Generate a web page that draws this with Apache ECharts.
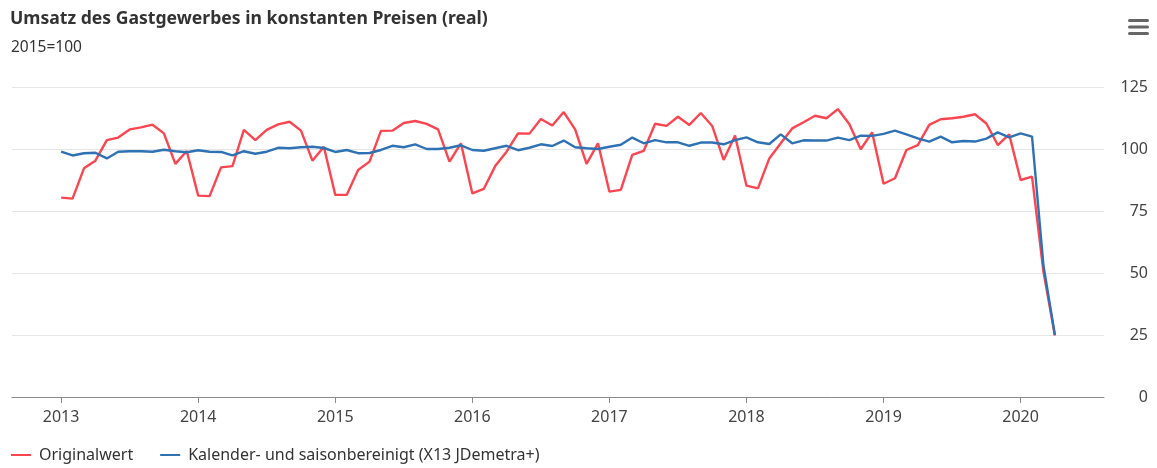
<!DOCTYPE html>
<html>
<head>
<meta charset="utf-8">
<script src="https://cdn.jsdelivr.net/npm/echarts@6/dist/echarts.min.js"></script>
<style>
  html, body { margin: 0; padding: 0; background: #fff; }
  #chart { width: 1157px; height: 468px; }
</style>
</head>
<body>
<div id="chart"></div>
<script>
// monthly values, Jan 2013 .. Apr 2020
var startYear = 2013;
var yearTicks = [2013, 2014, 2015, 2016, 2017, 2018, 2019, 2020];

var originalwert = [
    80.4, 80.0, 92.2, 95.3, 103.6, 104.6, 107.9, 108.7, 109.8, 106.3, 94.0, 99.2,
    81.2, 81.0, 92.6, 93.1, 107.7, 103.6, 107.7, 109.9, 111.0, 107.4, 95.3, 100.9,
    81.5, 81.5, 91.5, 94.9, 107.3, 107.4, 110.5, 111.3, 110.1, 107.9, 94.9, 102.3,
    82.1, 83.9, 93.1, 98.9, 106.3, 106.2, 112.1, 109.5, 114.9, 107.9, 94.0, 102.3,
    82.8, 83.5, 97.6, 99.2, 110.2, 109.3, 113.0, 109.7, 114.5, 109.3, 95.6, 105.4,
    85.2, 84.1, 96.2, 102.3, 108.3, 110.8, 113.4, 112.4, 116.1, 110.1, 99.9, 106.7,
    86.0, 88.2, 99.6, 101.6, 109.7, 112.0, 112.4, 113.0, 114.0, 110.3, 101.6, 105.9,
    87.5, 88.9, 50.5, 24.8
];

var bereinigt = [
    98.9, 97.4, 98.3, 98.5, 96.2, 98.9, 99.1, 99.1, 98.9, 99.7, 99.1, 98.7,
    99.5, 98.9, 98.8, 97.4, 99.1, 98.1, 98.9, 100.5, 100.3, 100.7, 100.9, 100.4,
    98.8, 99.6, 98.3, 98.4, 99.6, 101.3, 100.7, 101.9, 100.0, 100.0, 100.5, 101.5,
    99.6, 99.3, 100.3, 101.3, 99.5, 100.5, 101.9, 101.2, 103.4, 100.7, 100.3, 100.0,
    100.9, 101.7, 104.6, 102.3, 103.6, 102.7, 102.7, 101.3, 102.6, 102.6, 101.9, 103.6,
    104.7, 102.7, 102.0, 105.9, 102.3, 103.5, 103.4, 103.4, 104.6, 103.6, 105.4, 105.3,
    106.1, 107.4, 105.9, 104.3, 103.0, 105.0, 102.7, 103.2, 103.0, 104.2, 106.7, 104.7,
    106.3, 105.0, 53.0, 25.0
];

var seriesNames = ['Originalwert', 'Kalender- und saisonbereinigt (X13 JDemetra+)'];

function toPoints(arr) {
    return arr.map(function (v, i) { return [i, v]; });
}

var tickPos = yearTicks.map(function (y) { return (y - startYear) * 12; });

var chart = echarts.init(document.getElementById('chart'), null, { renderer: 'canvas' });
var font = '"Noto Sans", sans-serif';

var option = {
    backgroundColor: '#ffffff',
    animation: false,
    textStyle: { fontFamily: font },
    title: [
        {
            text: 'Umsatz des Gastgewerbes in konstanten Preisen (real)',
            left: 10,
            top: 10,
            padding: 0,
            textStyle: { fontFamily: font, fontSize: 17.6, fontWeight: 'bold', color: '#333333' }
        },
        {
            text: '2015=100',
            left: 11,
            top: 40,
            padding: 0,
            textStyle: { fontFamily: font, fontSize: 15.5, fontWeight: 'normal', color: '#333333' }
        }
    ],
    legend: {
        data: seriesNames,
        left: 11,
        top: 447,
        padding: 0,
        icon: 'rect',
        itemWidth: 20,
        itemHeight: 2,
        itemGap: 27,
        textStyle: { fontFamily: font, fontSize: 16, color: '#333333', padding: [0, 0, 0, 3] }
    },
    graphic: [
        { type: 'rect', right: 8, top: 19, shape: { width: 21, height: 3, r: 1.5 }, style: { fill: '#666666' } },
        { type: 'rect', right: 8, top: 25.5, shape: { width: 21, height: 3, r: 1.5 }, style: { fill: '#666666' } },
        { type: 'rect', right: 8, top: 32, shape: { width: 21, height: 3, r: 1.5 }, style: { fill: '#666666' } }
    ],
    grid: { left: 12, right: 53, top: 87, bottom: 71, containLabel: false },
    xAxis: {
        type: 'value',
        min: -4.3,
        max: 91.3,
        axisLine: { show: true, onZero: false, lineStyle: { color: '#8c8c8c', width: 1 } },
        axisTick: { show: true, customValues: tickPos, length: 6, lineStyle: { color: '#8c8c8c' } },
        axisLabel: {
            customValues: tickPos,
            margin: 12,
            color: '#444444',
            fontSize: 16,
            fontFamily: font,
            formatter: function (v) { return String(startYear + Math.round(v / 12)); }
        },
        splitLine: { show: false }
    },
    yAxis: {
        type: 'value',
        position: 'right',
        min: 0,
        max: 125,
        interval: 25,
        axisLine: { show: false },
        axisTick: { show: false },
        axisLabel: { align: 'right', margin: 44, color: '#444444', fontSize: 16, fontFamily: font },
        splitLine: { lineStyle: { color: '#e6e6e6', width: 1 } }
    },
    series: [
        {
            name: seriesNames[0],
            type: 'line',
            data: toPoints(originalwert),
            symbol: 'none',
            lineStyle: { color: '#fb4550', width: 2.4 },
            itemStyle: { color: '#fb4550' }
        },
        {
            name: seriesNames[1],
            type: 'line',
            data: toPoints(bereinigt),
            symbol: 'none',
            lineStyle: { color: '#2f72b4', width: 2.4 },
            itemStyle: { color: '#2f72b4' }
        }
    ]
};

chart.setOption(option);
</script>
</body>
</html>
